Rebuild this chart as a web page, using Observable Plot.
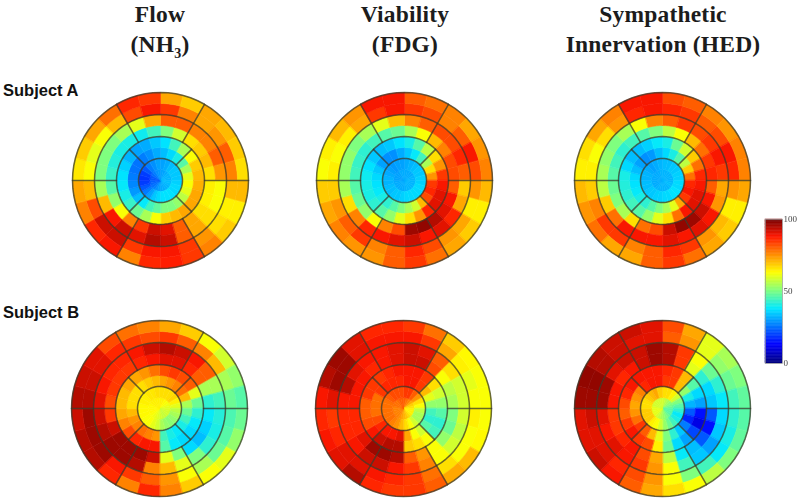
<!DOCTYPE html>
<html>
<head>
<meta charset="utf-8">
<script src="https://cdn.jsdelivr.net/npm/d3@7"></script>
<script src="https://cdn.jsdelivr.net/npm/@observablehq/plot@0.6"></script>
<style>
html,body{margin:0;padding:0;background:#fff;overflow:hidden}
#page{position:relative;width:800px;height:499px;background:#fff}
#page>*{position:absolute}
.title{font:bold 23.5px/30px "Liberation Serif",serif;color:#1c1c1c;text-align:center;white-space:nowrap;transform:translateX(-50%);letter-spacing:.2px}
.title sub{font-size:14px;line-height:0}
.subject{font:bold 16.5px "Liberation Sans",sans-serif;color:#111;white-space:nowrap}
.polar svg{filter:blur(.75px);overflow:visible}
.bar svg{filter:blur(.4px);overflow:visible}
</style>
</head>
<body>
<div id="page"></div>
<script>
// Each polar map: rows inner to outer, columns clockwise from 12 o'clock.
const flowA = [
[30,30,31,32,32,32,33,33,32,32,31,31,30,29,27,25,24,23,22,22,24,26,28,29],
[30,31,33,34,34,34,35,36,36,37,37,37,36,34,30,26,22,19,18,19,22,26,28,30],
[33,36,40,46,54,60,62,60,56,52,50,50,47,44,38,33,29,27,26,25,25,26,28,31],
[37,44,54,62,68,70,71,72,72,72,70,68,62,54,48,43,40,38,37,35,32,30,31,34],
[50,58,66,68,70,66,64,64,66,72,80,90,92,84,76,62,52,46,43,41,40,40,39,44],
[80,80,76,76,80,74,62,62,66,72,80,92,94,90,92,88,70,54,50,50,50,54,60,72],
[84,76,72,74,80,76,70,64,66,74,84,88,88,84,92,92,82,70,62,60,62,70,82,88],
[72,68,72,70,68,66,70,64,68,76,84,87,86,76,88,86,76,72,65,68,72,78,86,84]];
const viabilityA = [
[31,31,31,31,32,32,32,32,32,32,32,32,31,31,31,31,31,31,30,30,30,30,31,31],
[31,32,33,34,34,35,35,36,36,36,36,36,35,34,34,33,33,32,32,31,30,29,30,30],
[34,38,44,54,66,74,84,86,82,70,58,54,50,46,42,40,38,37,36,34,30,28,28,31],
[40,46,56,66,74,84,88,90,90,86,74,66,60,52,46,42,40,40,39,37,34,33,34,37],
[54,62,70,76,82,82,80,88,90,94,97,96,82,76,62,52,48,46,44,43,42,44,46,48],
[76,80,82,82,86,80,68,72,86,90,88,92,90,88,86,76,66,54,52,52,50,54,60,70],
[84,82,76,80,88,82,74,64,72,74,82,86,80,76,84,80,74,68,64,62,64,72,84,88],
[80,78,76,72,74,76,70,64,68,72,78,84,80,74,74,76,72,68,62,64,70,74,88,88]];
const hedA = [
[32,32,32,32,32,32,32,33,33,32,32,32,32,32,32,31,31,31,31,31,31,31,31,32],
[33,33,34,34,35,35,36,36,37,37,36,36,35,35,34,34,33,33,32,32,31,30,31,32],
[36,40,46,56,68,78,86,88,84,72,60,54,50,46,42,40,38,37,36,33,30,28,29,33],
[40,48,58,68,78,86,88,90,90,88,78,66,60,52,46,44,42,41,40,36,33,33,35,38],
[56,62,70,78,84,86,80,88,92,96,97,92,82,78,66,54,50,48,46,44,42,44,46,50],
[80,84,82,84,88,84,72,74,88,90,88,90,88,88,88,78,68,56,54,52,50,54,62,76],
[86,84,80,82,88,86,74,64,70,74,84,86,80,76,84,84,76,68,64,62,66,74,86,88],
[82,80,76,74,76,76,72,64,68,72,78,84,80,72,72,78,74,70,64,66,72,76,88,88]];
const flowB = [
[64,64,63,62,61,60,59,58,58,57,57,58,59,60,61,62,63,63,63,63,64,64,64,64],
[66,66,66,67,64,60,56,54,52,51,52,54,58,60,62,62,63,63,63,64,64,65,65,66],
[72,74,76,78,70,54,48,44,40,38,40,44,74,76,78,76,74,70,66,66,66,66,68,70],
[82,84,82,80,60,48,42,38,36,36,38,46,88,88,86,82,76,72,70,70,72,72,74,78],
[90,90,86,80,54,42,38,35,33,36,50,60,92,96,96,96,92,84,82,84,84,84,86,88],
[94,92,88,80,54,44,41,40,42,50,60,70,76,94,96,96,94,92,90,88,86,86,88,92],
[84,80,76,70,54,48,45,46,48,54,62,74,80,84,88,96,96,96,94,92,90,86,84,82],
[72,68,62,58,52,46,48,52,60,62,68,76,86,76,86,94,94,92,94,92,90,82,78,76]];
const viabilityB = [
[80,78,76,72,68,66,64,64,64,66,68,70,72,74,76,76,76,76,76,78,78,78,80,80],
[84,84,80,74,66,62,56,54,54,58,62,66,70,74,76,78,78,78,78,78,80,82,82,82],
[88,88,84,70,60,52,44,42,46,58,62,72,90,88,88,86,82,78,78,78,84,86,86,86],
[88,88,84,66,58,52,46,42,44,62,66,68,94,94,92,88,82,80,80,84,84,84,86,88],
[92,92,82,62,56,54,50,48,52,62,74,80,94,96,96,90,86,86,88,88,88,86,88,90],
[92,90,80,66,58,58,58,56,58,62,76,84,88,92,92,88,86,86,88,94,90,88,88,90],
[88,84,72,64,60,62,64,62,62,66,78,84,86,88,90,90,86,84,90,96,96,90,88,88],
[84,78,68,63,62,62,62,63,70,72,80,84,84,86,94,90,88,86,88,94,96,90,86,86]];
const hedB = [
[58,56,54,52,50,48,46,46,46,48,50,52,54,56,58,60,60,60,60,58,58,58,58,58],
[66,66,64,58,50,46,42,38,40,44,48,52,58,62,64,68,68,68,66,66,68,70,72,68],
[84,84,70,52,40,32,22,16,26,34,42,50,60,70,80,84,78,74,72,74,76,86,88,88],
[86,84,70,46,36,30,14,10,20,30,36,48,64,82,84,88,84,80,82,86,88,88,88,88],
[94,84,60,42,36,34,22,14,22,33,38,56,72,82,88,86,84,84,88,88,86,88,92,96],
[94,84,62,48,42,38,36,34,30,34,44,62,74,84,88,90,88,90,96,96,90,92,92,96],
[80,74,60,52,48,44,42,40,38,44,50,62,74,82,86,90,90,92,96,97,94,92,90,90],
[82,72,60,54,50,47,46,47,50,56,62,66,72,80,88,92,90,90,96,97,94,92,92,90]];

const panels = [
  {values: flowA,      cx: 160, cy: 180},
  {values: viabilityA, cx: 404, cy: 180},
  {values: hedA,       cx: 662, cy: 180},
  {values: flowB,      cx: 159, cy: 408},
  {values: viabilityB, cx: 403, cy: 408},
  {values: hedB,       cx: 662, cy: 408}
];
const titles = [
  {html: "Flow<br>(NH<sub>3</sub>)", x: 160},
  {html: "Viability<br>(FDG)", x: 405},
  {html: "Sympathetic<br>Innervation (HED)", x: 663}
];
const subjects = [{label: "Subject A", y: 81}, {label: "Subject B", y: 303}];
const colorTicks = [0, 50, 100];
const colorDomain = [0, 12.5, 37.5, 50, 62.5, 87.5, 100];
const colorRange = ["#00007f", "#0000ff", "#00e8ff", "#7fff7f", "#ffff00", "#ff1800", "#6f0000"];

const color = {type: "linear", domain: colorDomain, range: colorRange, interpolate: "rgb", clamp: true};
const ringDeg = 10, sectorDeg = 15, outerPx = 88, size = 200;
const pt = (theta, rho) => [180 - theta, 90 - Math.max(rho, 0.001)];
const arc = (t1, t2, rho) => d3.range(0, 11).map(i => pt(t1 + (t2 - t1) * i / 10, rho));

function cells(values) {
  return values.flatMap((row, i) => row.map((v, k) => {
    const r0 = i * ringDeg, r1 = (i + 1) * ringDeg, t0 = k * sectorDeg, t1 = (k + 1) * sectorDeg;
    const ring = [...arc(t0, t1, r1), ...arc(t1, t0, r0)];
    ring.push(ring[0]);
    return {type: "Polygon", coordinates: [ring], v};
  }));
}
const ringLines = [20, 40, 60, 80].map(r => ({type: "LineString", coordinates: d3.range(0, 73).map(i => pt(i * 5, r))}));
const spoke = (t, a, b) => ({type: "LineString", coordinates: [pt(t, a), pt(t, b)]});
const spokes = [
  ...[0, 60, 120, 180, 240, 300].map(t => spoke(t + 30 * 0 + 30, 40, 80)).filter(() => false),
  ...[30, 90, 150, 210, 270, 330].map(t => spoke(t, 40, 80)),
  ...[45, 135, 225, 315].map(t => spoke(t, 20, 40))
];
const page = document.getElementById("page");

for (const p of panels) {
  const plot = Plot.plot({
    width: size, height: size, margin: 0,
    projection: () => d3.geoAzimuthalEquidistant().rotate([0, -90]).translate([size / 2, size / 2])
      .scale(outerPx / (80 * Math.PI / 180)).precision(0.2),
    color,
    marks: [
      Plot.geo(cells(p.values), {fill: d => d.v, stroke: d => d.v, strokeWidth: 0.6}),
      Plot.geo(ringLines, {stroke: "#3a3a2a", strokeOpacity: 0.75, strokeWidth: 1.5}),
      Plot.geo(spokes, {stroke: "#3a3a2a", strokeOpacity: 0.75, strokeWidth: 1.5})
    ]
  });
  const w = document.createElement("div");
  w.className = "polar";
  w.style.left = (p.cx - size / 2) + "px";
  w.style.top = (p.cy - size / 2) + "px";
  w.appendChild(plot);
  page.appendChild(w);
}

const ramp = d3.range(0, 100);
const bar = Plot.plot({
  width: 45, height: 164, marginTop: 14, marginBottom: 6, marginLeft: 10, marginRight: 18,
  x: {axis: null, domain: [0, 1]},
  y: {domain: [0, 100], axis: null},
  color,
  marks: [
    Plot.rect(ramp, {x1: 0, x2: 1, y1: d => d, y2: d => d + 1, fill: d => d, stroke: d => d, strokeWidth: 0.5}),
    Plot.frame({stroke: "#999", strokeWidth: 0.7}),
    Plot.axisY(colorTicks, {anchor: "right", tickSize: 0, tickPadding: 1, fontSize: 9, fill: "#444",
      fontFamily: "Liberation Serif", tickFormat: d => d})
  ]
});
const bw = document.createElement("div");
bw.className = "bar";
bw.style.left = "755px";
bw.style.top = "205px";
bw.appendChild(bar);
page.appendChild(bw);

for (const t of titles) {
  const el = document.createElement("div");
  el.className = "title";
  el.style.left = t.x + "px";
  el.style.top = "-1px";
  el.innerHTML = t.html;
  page.appendChild(el);
}
for (const s of subjects) {
  const el = document.createElement("div");
  el.className = "subject";
  el.style.left = "3px";
  el.style.top = s.y + "px";
  el.textContent = s.label;
  page.appendChild(el);
}
</script>
</body>
</html>
